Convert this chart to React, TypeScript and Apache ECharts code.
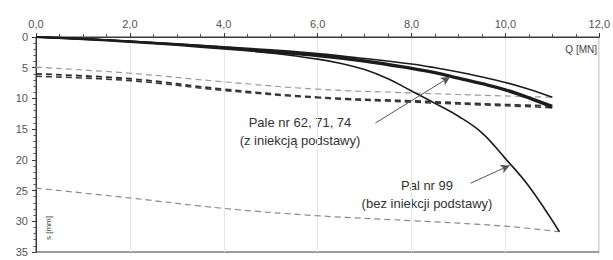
import React, { useEffect, useRef } from "react";
import * as echarts from "echarts";

// Loading curves, piles with base grouting (Pale nr 62, 71, 74)
const qLoad = [0, 1, 2, 3, 4, 5, 6, 7, 8, 8.5, 9, 9.5, 10, 10.5, 11];
const sPile62 = [0, 0.3, 0.7, 1.1, 1.6, 2.1, 2.7, 3.5, 4.4, 5.0, 5.7, 6.5, 7.4, 8.5, 9.8];
const sPile71 = [0, 0.3, 0.7, 1.2, 1.7, 2.3, 2.9, 3.8, 5.0, 5.7, 6.6, 7.5, 8.5, 9.8, 11.2];
const sPile74 = [0, 0.35, 0.8, 1.3, 1.9, 2.5, 3.1, 4.0, 5.2, 5.9, 6.8, 7.7, 8.7, 10.0, 11.5];

// Loading curve, pile without base grouting (Pal nr 99)
const q99 = [0, 1, 2, 3, 4, 5, 6, 6.5, 7, 7.5, 8, 8.5, 9, 9.5, 10, 10.5, 11.15];
const s99 = [0, 0.3, 0.7, 1.2, 1.8, 2.6, 3.6, 4.3, 5.3, 6.8, 8.8, 10.8, 12.9, 15.6, 19.8, 24.3, 31.7];

// Unloading (dashed) curves
const qUnload = [0, 2, 4, 6, 8, 10, 11];
const uPile62 = [4.9, 5.9, 7.3, 8.5, 9.1, 9.6, 9.8];
const uPile71 = [6.0, 6.8, 8.5, 9.8, 10.4, 11.0, 11.2];
const uPile74 = [6.4, 7.1, 8.7, 9.9, 10.6, 11.2, 11.5];
const qUnload99 = [0, 2, 4, 6, 8, 10, 11.15];
const u99 = [24.6, 26.2, 27.9, 29.1, 29.9, 30.8, 31.7];

const xTickValues = [0, 2, 4, 6, 8, 10, 12];
const yTickValues = [0, 5, 10, 15, 20, 25, 30, 35];

const pairs = (xs: number[], ys: number[]) => xs.map((x, i) => [x, ys[i]]);

const FONT = "Liberation Sans, Arial, sans-serif";

export default function App() {
  const ref = useRef<HTMLDivElement>(null);
  useEffect(() => {
    if (!ref.current) return;
    const chart = echarts.init(ref.current, null, { renderer: "svg" });
    const solid = (name: string, xs: number[], ys: number[], w: number, extra: any = {}) => ({
      name,
      type: "line",
      data: pairs(xs, ys),
      showSymbol: false,
      smooth: 0.4,
      lineStyle: { color: "#1c1c1c", width: w },
      silent: true,
      ...extra,
    });
    const dashed = (name: string, xs: number[], ys: number[], color: string, w: number, dash: number[]) => ({
      name,
      type: "line",
      data: pairs(xs, ys),
      showSymbol: false,
      smooth: 0.4,
      lineStyle: { color, width: w, type: dash },
      silent: true,
    });
    const arrowLine = (from: number[], to: number[]) => [
      { coord: from, symbol: "none" },
      { coord: to, symbol: "arrow" },
    ];
    const textStyle = (text: string) => ({
      text,
      font: `13px ${FONT}`,
      fill: "#333",
      align: "center",
      verticalAlign: "middle",
    });
    chart.setOption({
      animation: false,
      backgroundColor: "#ffffff",
      grid: {
        left: 36,
        right: 11,
        top: 37,
        bottom: 8,
        show: true,
        borderColor: "#3a3a3a",
        borderWidth: 1,
        backgroundColor: "transparent",
      },
      xAxis: {
        type: "value",
        position: "top",
        min: 0,
        max: 12,
        interval: 2,
        axisLine: { show: true, lineStyle: { color: "#3a3a3a", width: 1 } },
        axisTick: { show: true, length: 4, lineStyle: { color: "#3a3a3a" } },
        minorTick: { show: true, splitNumber: 4, length: 3, lineStyle: { color: "#555" } },
        splitLine: { show: true, lineStyle: { color: "#e6e6e6", width: 1 } },
        axisLabel: {
          color: "#555",
          fontFamily: FONT,
          fontSize: 11,
          margin: 8,
          formatter: (v: number) =>
            xTickValues.includes(v) ? v.toFixed(1).replace(".", ",") : "",
        },
      },
      yAxis: {
        type: "value",
        inverse: true,
        min: 0,
        max: 35,
        interval: 5,
        axisLine: { show: true, lineStyle: { color: "#3a3a3a", width: 1 } },
        axisTick: { show: true, length: 4, lineStyle: { color: "#3a3a3a" } },
        minorTick: { show: true, splitNumber: 5, length: 2.5, lineStyle: { color: "#555" } },
        splitLine: { show: false },
        axisLabel: {
          color: "#555",
          fontFamily: FONT,
          fontSize: 11,
          margin: 8,
          formatter: (v: number) => (yTickValues.includes(v) ? String(v) : ""),
        },
      },
      series: [
        dashed("Pal 62 odciążenie", qUnload, uPile62, "#9a9a9a", 1.2, [6, 4]),
        dashed("Pal 71 odciążenie", qUnload, uPile71, "#2e2e2e", 1.8, [6, 4]),
        dashed("Pal 74 odciążenie", qUnload, uPile74, "#3a3a3a", 1.6, [6, 4]),
        dashed("Pal 99 odciążenie", qUnload99, u99, "#8a8a8a", 1.2, [6, 4]),
        solid("Pal 62", qLoad, sPile62, 1.6),
        solid("Pal 71", qLoad, sPile71, 2.2),
        solid("Pal 74", qLoad, sPile74, 2.2),
        solid("Pal 99", q99, s99, 1.6, {
          markLine: {
            silent: true,
            symbolSize: [7, 9],
            animation: false,
            label: { show: false },
            lineStyle: { color: "#555", width: 1, type: "solid" },
            data: [
              arrowLine([7.23, 14.0], [8.82, 6.5]),
              arrowLine([9.26, 23.8], [10.09, 20.9]),
            ],
          },
        }),
      ],
      graphic: [
        {
          type: "text",
          x: 597,
          y: 49,
          style: { text: "Q [MN]", font: `10px ${FONT}`, fill: "#444", align: "right", verticalAlign: "middle" },
        },
        {
          type: "text",
          x: 44,
          y: 240,
          rotation: Math.PI / 2,
          style: { text: "s [mm]", font: `8px ${FONT}`, fill: "#444" },
        },
        { type: "text", x: 300, y: 122, style: textStyle("Pale nr 62, 71, 74") },
        { type: "text", x: 300, y: 140, style: textStyle("(z iniekcją podstawy)") },
        { type: "text", x: 427, y: 185, style: textStyle("Pal nr 99") },
        { type: "text", x: 427, y: 203, style: textStyle("(bez iniekcji podstawy)") },
      ],
    });
    return () => chart.dispose();
  }, []);
  return (
    <div
      ref={ref}
      style={{ position: "fixed", left: 0, top: 0, width: 613, height: 260 }}
    />
  );
}
